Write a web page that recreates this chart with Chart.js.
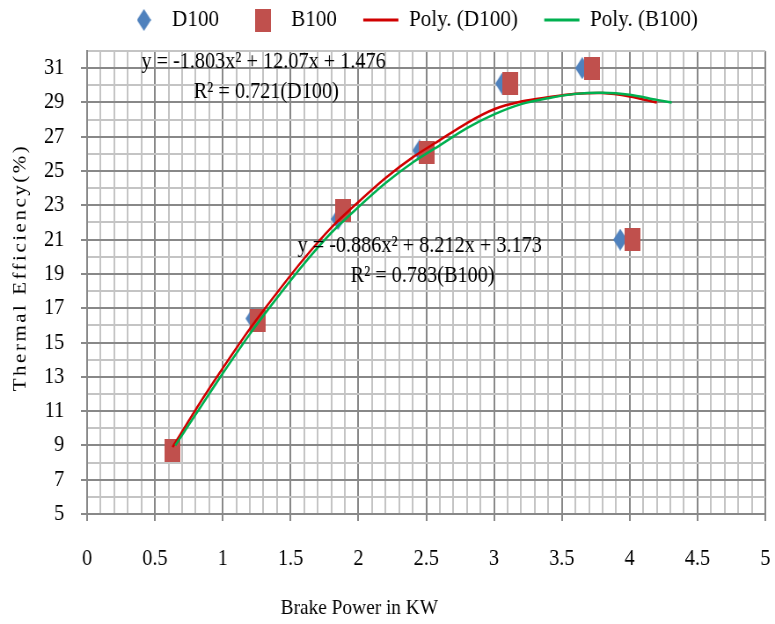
<!DOCTYPE html>
<html>
<head>
<meta charset="utf-8">
<script src="https://cdn.jsdelivr.net/npm/chart.js@4/dist/chart.umd.min.js"></script>
<style>
  body { margin: 0; background: #fff; overflow: hidden; }
</style>
</head>
<body>
<!-- drawn 881 wide, shown 775 wide: the reference is horizontally condensed -->
<canvas id="chart" width="881" height="624" style="width:775px;height:624px"></canvas>
<script>
// tick labels
var xTickLabels = ['0', '0.5', '1', '1.5', '2', '2.5', '3', '3.5', '4', '4.5', '5'];
var yTickLabels = ['5', '7', '9', '11', '13', '15', '17', '19', '21', '23', '25', '27', '29', '31'];

// measured points
var d100X = [0.62, 1.22, 1.85, 2.45, 3.06, 3.65, 3.93];
var d100Y = [8.7, 16.4, 22.2, 26.2, 30.1, 31.0, 21.0];
var b100X = [0.63, 1.26, 1.89, 2.50, 3.12, 3.72, 4.02];
var b100Y = [8.7, 16.3, 22.7, 26.1, 30.1, 31.0, 21.0];

// trendlines
var polyD100X = [0.63, 0.85, 1.0, 1.2, 1.4, 1.6, 1.8, 2.0, 2.2, 2.4, 2.6, 2.8, 3.0, 3.2, 3.4, 3.6, 3.8, 4.0, 4.2];
var polyD100Y = [8.9, 11.7, 13.5, 15.8, 17.9, 19.9, 21.7, 23.2, 24.6, 25.8, 26.8, 27.8, 28.6, 29.05, 29.3, 29.5, 29.55, 29.35, 29.0];
var polyB100X = [0.65, 0.85, 1.0, 1.2, 1.4, 1.6, 1.8, 2.0, 2.2, 2.4, 2.6, 2.8, 3.0, 3.2, 3.4, 3.6, 3.8, 4.0, 4.2, 4.31];
var polyB100Y = [9.0, 11.4, 13.2, 15.5, 17.6, 19.6, 21.4, 22.9, 24.3, 25.5, 26.5, 27.5, 28.3, 28.9, 29.25, 29.5, 29.57, 29.45, 29.15, 29.0];

var eqD100 = 'y = -1.803x\u00b2 + 12.07x + 1.476';
var r2D100 = 'R\u00b2 = 0.721(D100)';
var eqB100 = 'y = -0.886x\u00b2 + 8.212x + 3.173';
var r2B100 = 'R\u00b2 = 0.783(B100)';

var FONT = "'Liberation Serif', 'Times New Roman', serif";
var GRID_MAJOR = '#888888';
var GRID_MINOR = '#c4c4c4';

function pts(xs, ys) {
  return xs.map(function (x, i) { return { x: x, y: ys[i] }; });
}

function marker(w, h, color, shape) {
  var c = document.createElement('canvas');
  c.width = w;
  c.height = h;
  var g = c.getContext('2d');
  g.fillStyle = color;
  g.beginPath();
  if (shape === 'diamond') {
    g.moveTo(w / 2, 0);
    g.lineTo(w, h / 2);
    g.lineTo(w / 2, h);
    g.lineTo(0, h / 2);
  } else {
    g.rect(0, 0, w, h);
  }
  g.closePath();
  g.fill();
  return c;
}

var diamond = marker(16, 22, '#4f81bd', 'diamond');
var square = marker(18, 23, '#c0504d', 'square');

function xMajor(v) { return xTickLabels.indexOf(String(Math.round(v * 10) / 10)) >= 0; }
function yMajor(v) { return yTickLabels.indexOf(String(v)) >= 0; }

// legend sits right of centre in the reference
var legendShift = {
  id: 'legendShift',
  afterLayout: function (chart) {
    chart.legend.left = 64;
  }
};

// equations and axis titles
var textPlugin = {
  id: 'texts',
  afterDatasetsDraw: function (chart) {
    var ctx = chart.ctx;
    var xs = chart.scales.x, ys = chart.scales.y;
    ctx.save();
    ctx.fillStyle = '#000';
    ctx.textBaseline = 'middle';
    ctx.textAlign = 'left';
    ctx.font = '23px ' + FONT;
    ctx.fillText(eqD100, xs.getPixelForValue(0.40), ys.getPixelForValue(31.35));
    ctx.fillText(r2D100, xs.getPixelForValue(0.786), ys.getPixelForValue(29.6));
    ctx.fillText(eqB100, xs.getPixelForValue(1.551), ys.getPixelForValue(20.65));
    ctx.fillText(r2B100, xs.getPixelForValue(1.943), ys.getPixelForValue(18.9));

    ctx.textAlign = 'center';
    ctx.font = '22px ' + FONT;
    ctx.fillText('Brake Power in KW', 408.5, 608);

    ctx.translate(23.3, 267.5);
    ctx.rotate(-Math.PI / 2);
    ctx.font = '21px ' + FONT;
    if ('letterSpacing' in ctx) ctx.letterSpacing = '2.5px';
    ctx.fillText('Thermal Efficiency(%)', 0, 0);
    ctx.restore();
  }
};

var config = {
  type: 'scatter',
  data: {
    datasets: [
      {
        label: 'D100',
        data: pts(d100X, d100Y),
        pointStyle: diamond,
        pointRadius: 10,
        order: 4
      },
      {
        label: 'B100',
        data: pts(b100X, b100Y),
        pointStyle: square,
        pointRadius: 10,
        order: 3
      },
      {
        label: 'Poly. (D100)',
        data: pts(polyD100X, polyD100Y),
        showLine: true,
        borderColor: '#d00000',
        backgroundColor: '#d00000',
        borderWidth: 2.5,
        tension: 0.3,
        pointRadius: 0,
        pointStyle: 'line',
        pointBorderWidth: 3,
        order: 2
      },
      {
        label: 'Poly. (B100)',
        data: pts(polyB100X, polyB100Y),
        showLine: true,
        borderColor: '#00b050',
        backgroundColor: '#00b050',
        borderWidth: 2.5,
        tension: 0.3,
        pointRadius: 0,
        pointStyle: 'line',
        pointBorderWidth: 3,
        order: 1
      }
    ]
  },
  options: {
    responsive: false,
    animation: false,
    devicePixelRatio: 1,
    layout: {
      padding: { left: 0, right: 8.3, top: -22, bottom: 0 }
    },
    plugins: {
      legend: {
        position: 'top',
        labels: {
          usePointStyle: true,
          pointStyleWidth: 40,
          padding: 30,
          color: '#000',
          font: { family: FONT, size: 24 },
          sort: function (a, b) { return a.datasetIndex - b.datasetIndex; }
        }
      },
      tooltip: { enabled: false }
    },
    scales: {
      x: {
        type: 'linear',
        position: 'bottom',
        min: 0,
        max: 5,
        afterFit: function (s) {
          s.height = 110;
          s.paddingLeft = 0;
          s.paddingRight = 0;
        },
        ticks: {
          stepSize: 0.1,
          autoSkip: false,
          maxRotation: 0,
          minRotation: 0,
          padding: 24,
          color: '#000',
          font: { family: FONT, size: 23 },
          callback: function (v) { return xMajor(v) ? String(Math.round(v * 10) / 10) : ''; }
        },
        grid: {
          lineWidth: 2,
          tickLength: 7,
          color: function (c) { return xMajor(c.tick.value) ? GRID_MAJOR : GRID_MINOR; },
          tickColor: function (c) { return xMajor(c.tick.value) ? GRID_MAJOR : 'rgba(0,0,0,0)'; }
        },
        border: { color: GRID_MAJOR, width: 2 }
      },
      xTop: {
        type: 'linear',
        axis: 'x',
        position: 'top',
        display: true,
        afterFit: function (s) { s.height = 9; },
        ticks: { display: false },
        grid: { display: false },
        border: { display: false }
      },
      y: {
        type: 'linear',
        min: 5,
        max: 32,
        afterFit: function (s) { s.width = 99; },
        ticks: {
          stepSize: 1,
          autoSkip: false,
          padding: 19,
          color: '#000',
          font: { family: FONT, size: 23 },
          callback: function (v) { return yMajor(v) ? String(v) : ''; }
        },
        grid: {
          lineWidth: 2,
          tickLength: 7,
          color: function (c) { return yMajor(c.tick.value) ? GRID_MAJOR : GRID_MINOR; },
          tickColor: function (c) { return yMajor(c.tick.value) ? GRID_MAJOR : 'rgba(0,0,0,0)'; }
        },
        border: { color: GRID_MAJOR, width: 2 }
      }
    }
  },
  plugins: [legendShift, textPlugin]
};

var chart = new Chart(document.getElementById('chart'), config);
</script>
</body>
</html>
